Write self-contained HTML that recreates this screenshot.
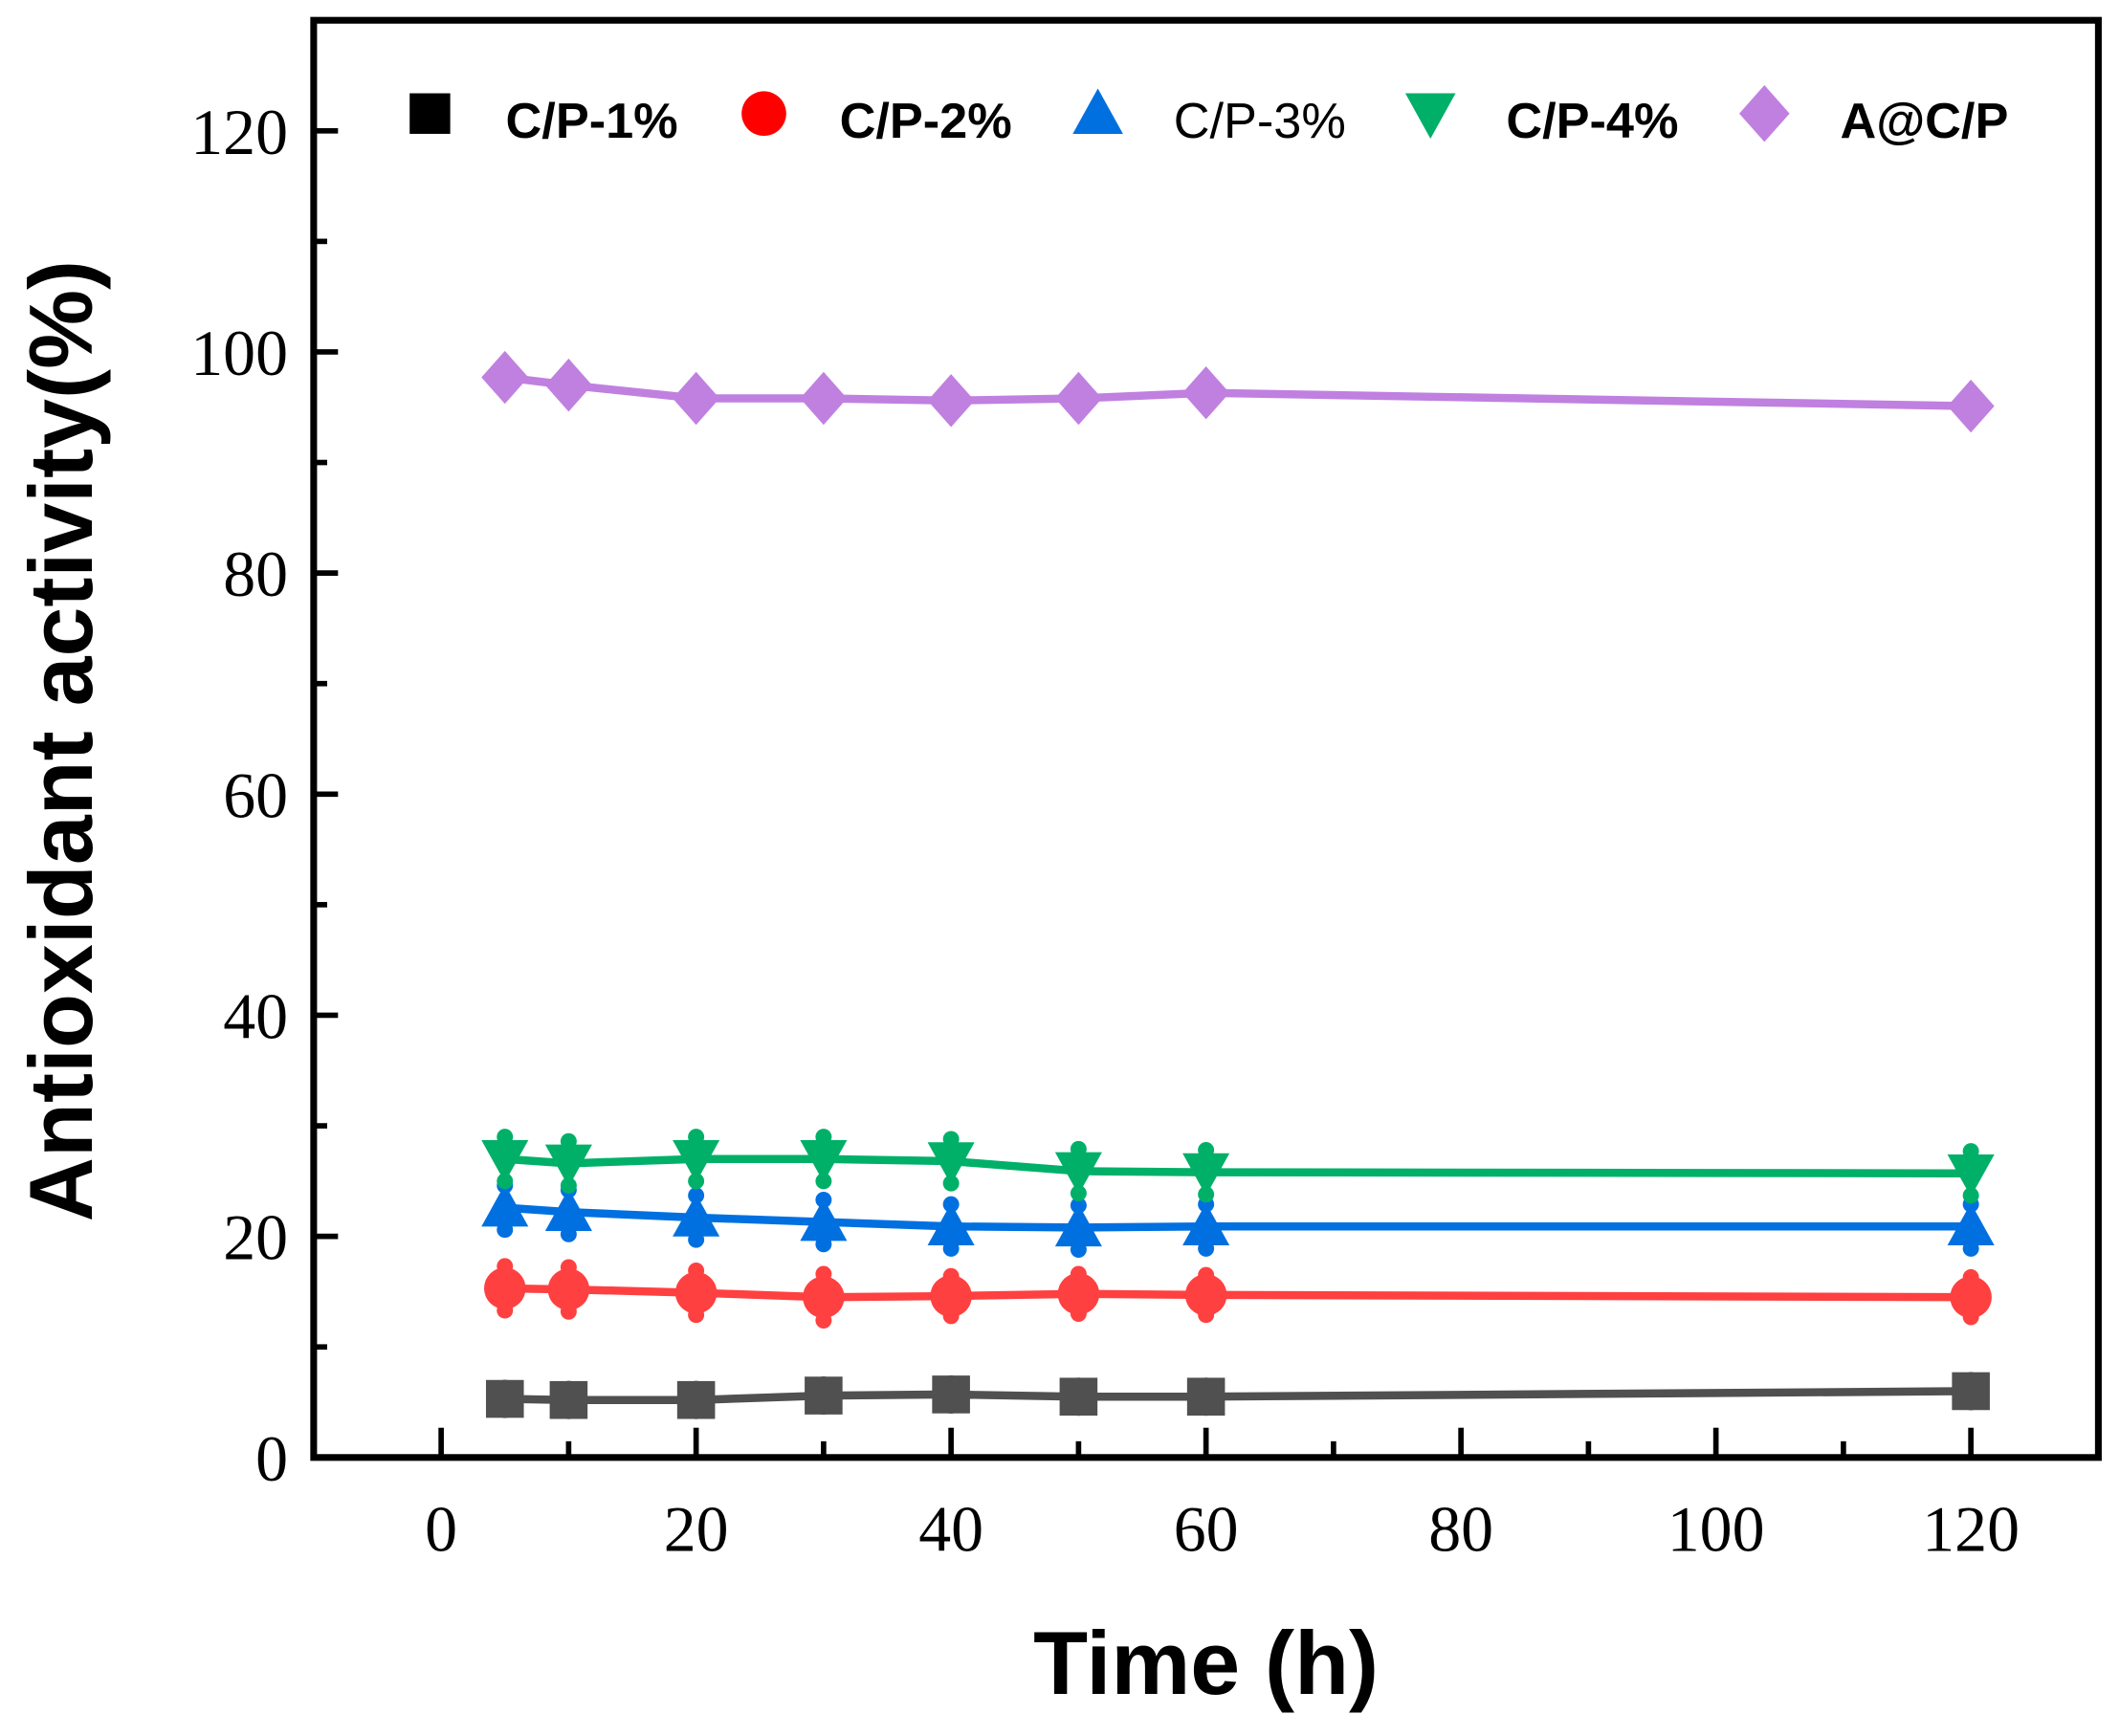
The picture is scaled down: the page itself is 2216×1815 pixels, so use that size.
<!DOCTYPE html>
<html><head><meta charset="utf-8"><style>html,body{margin:0;padding:0;background:#fff}svg{display:block}</style></head>
<body>
<svg id="chart" width="2216" height="1815" viewBox="0 0 1568 1284" preserveAspectRatio="none" xmlns="http://www.w3.org/2000/svg">
<g id="plot"></g>
</svg>
<script>
const times = [5, 10, 20, 30, 40, 50, 60, 120];
const cp1 = [5.3, 5.2, 5.2, 5.6, 5.7, 5.5, 5.5, 6.0];
const cp1Err = [1.0, 1.0, 1.0, 1.0, 1.0, 1.0, 1.0, 1.0];
const cp2 = [15.3, 15.2, 14.9, 14.5, 14.6, 14.8, 14.7, 14.5];
const cp2Err = [2.0, 2.0, 2.0, 2.1, 1.8, 1.8, 1.8, 1.8];
const cp3 = [22.6, 22.2, 21.7, 21.3, 20.9, 20.8, 20.9, 20.9];
const cp3Err = [2.0, 2.0, 2.0, 2.0, 2.0, 2.0, 2.0, 2.0];
const cp4 = [27.0, 26.6, 27.0, 27.0, 26.8, 25.9, 25.8, 25.7];
const cp4Err = [2.0, 2.0, 2.0, 2.0, 2.0, 2.0, 2.0, 2.0];
const acp = [97.7, 97.0, 95.8, 95.8, 95.6, 95.8, 96.3, 95.1];
const xTicks = [0, 20, 40, 60, 80, 100, 120];
const yTicks = [0, 20, 40, 60, 80, 100, 120];

const L=232,R=1552,T=15,B=1078;
const xMin=-10,xMax=130,yMin=0,yMax=130;
const sx=v=>L+(v-xMin)/(xMax-xMin)*(R-L);
const sy=v=>B-(v-yMin)/(yMax-yMin)*(B-T);
const NS='http://www.w3.org/2000/svg';
const g=document.getElementById('plot');
function mk(tag,attrs,parent){const e=document.createElementNS(NS,tag);for(const k in attrs)e.setAttribute(k,attrs[k]);(parent||g).appendChild(e);return e;}

function marker(shape,cx,cy,color,s,parent){
  if(shape==='square') return mk('rect',{x:cx-s*0.5,y:cy-s*0.5,width:s,height:s,fill:color},parent);
  if(shape==='circle') return mk('circle',{cx:cx,cy:cy,r:s*0.55,fill:color},parent);
  if(shape==='up') return mk('polygon',{points:`${cx},${cy-s*0.62} ${cx-s*0.62},${cy+s*0.5} ${cx+s*0.62},${cy+s*0.5}`,fill:color},parent);
  if(shape==='down') return mk('polygon',{points:`${cx},${cy+s*0.62} ${cx-s*0.62},${cy-s*0.5} ${cx+s*0.62},${cy-s*0.5}`,fill:color},parent);
  if(shape==='diamond') return mk('polygon',{points:`${cx},${cy-s*0.7} ${cx+s*0.62},${cy} ${cx},${cy+s*0.7} ${cx-s*0.62},${cy}`,fill:color},parent);
}

const series=[
 {name:'C/P-1%',vals:cp1,err:cp1Err,color:'#505050',leg:'#000',shape:'square',bold:true},
 {name:'C/P-2%',vals:cp2,err:cp2Err,color:'#ff4040',leg:'#ff0000',shape:'circle',bold:true},
 {name:'C/P-3%',vals:cp3,err:cp3Err,color:'#0070e0',leg:'#0070e0',shape:'up',bold:false},
 {name:'C/P-4%',vals:cp4,err:cp4Err,color:'#00b068',leg:'#00b068',shape:'down',bold:true},
 {name:'A@C/P',vals:acp,err:null,color:'#c080e0',leg:'#c080e0',shape:'diamond',bold:true}
];

series.forEach((s,si)=>{
  const grp=mk('g',{});
  
  
  const pts=times.map((t,i)=>sx(t)+','+sy(s.vals[i])).join(' ');
  const line=mk('polyline',{points:pts,fill:'none',stroke:s.color,'stroke-width':6},grp);
  
  
  times.forEach((t,i)=>{
    if(s.err){
      const e=mk('line',{x1:sx(t),x2:sx(t),y1:sy(s.vals[i]-s.err[i]),y2:sy(s.vals[i]+s.err[i]),stroke:s.color,'stroke-width':4},grp);
      
      
      [s.vals[i]-s.err[i],s.vals[i]+s.err[i]].forEach(v=>{
        const c=mk('circle',{cx:sx(t),cy:sy(v),r:6,fill:s.color},grp);
        
        
      });
    }
    const m=marker(s.shape,sx(t),sy(s.vals[i]),s.color,28,grp);
    
    
  });
});

const frame=mk('rect',{x:L,y:T,width:R-L,height:B-T,fill:'none',stroke:'#000','stroke-width':5});



for(let v=0;v<=120;v+=10){
  const major=v%20===0;
  const t=mk('line',{x1:sx(v),x2:sx(v),y1:B,y2:B-(major?22:12),stroke:'#000','stroke-width':4});
  
  
}
xTicks.forEach(v=>{
  const tx=mk('text',{x:sx(v),y:1147,'text-anchor':'middle','font-family':'Liberation Serif, serif','font-size':48});
  tx.textContent=v;
  
  
});
for(let v=0;v<=120;v+=10){
  const major=v%20===0;
  const t=mk('line',{x1:L,x2:L+(major?18:10),y1:sy(v),y2:sy(v),stroke:'#000','stroke-width':4});
  
  
}
yTicks.forEach(v=>{
  const tx=mk('text',{x:213,y:sy(v)+17,'text-anchor':'end','font-family':'Liberation Serif, serif','font-size':48});
  tx.textContent=v;
  
  
});

const xt=mk('text',{x:892,y:1253,'text-anchor':'middle','font-family':'Liberation Sans, sans-serif','font-size':66,'font-weight':'bold'});
xt.textContent='Time (h)';


const yt=mk('text',{x:0,y:0,'text-anchor':'middle','font-family':'Liberation Sans, sans-serif','font-size':66,'font-weight':'bold',transform:'translate(68,548) rotate(-90)'});
yt.textContent='Antioxidant activity(%)';



const legX=[318,565,812,1058,1305];
series.forEach((s,i)=>{
  const lg=mk('g',{});
  
  
  marker(s.shape,legX[i],84,s.leg,30,lg);
  const t=mk('text',{x:legX[i]+56,y:102,'font-family':'Liberation Sans, sans-serif','font-size':37,'font-weight':s.bold?'bold':'normal'},lg);
  t.textContent=s.name;
});
</script>
</body></html>
